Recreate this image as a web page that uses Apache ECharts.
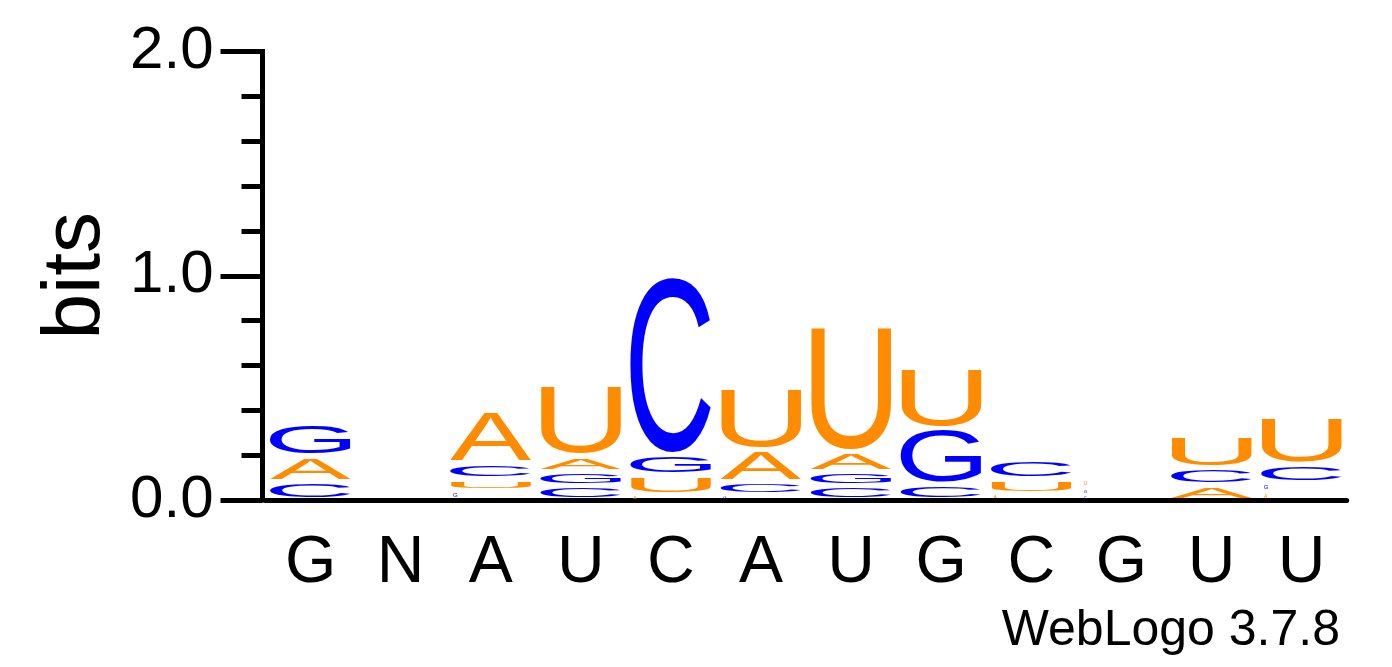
<!DOCTYPE html>
<html>
<head>
<meta charset="utf-8">
<script src="https://cdn.jsdelivr.net/npm/echarts@6/dist/echarts.min.js"></script>
<style>
  html, body { margin: 0; padding: 0; background: #fff; }
  #logo { width: 1392px; height: 667px; }
</style>
</head>
<body>
<div id="logo"></div>
<script>
// positions of the consensus sequence
const positions = ['G', 'N', 'A', 'U', 'C', 'A', 'U', 'G', 'C', 'G', 'U', 'U']
// bits per letter per position
const bitsA = [0.114, 0, 0.231, 0.070, 0.025, 0.141, 0.089, 0,     0.030, 0,     0.068, 0.035]
const bitsC = [0.083, 0, 0.071, 0.062, 0.800, 0.058, 0.062, 0.070, 0.088, 0.025, 0.075, 0.080]
const bitsG = [0.144, 0, 0.043, 0.065, 0.090, 0.025, 0.065, 0.250, 0,     0.030, 0,     0.043]
const bitsU = [0,     0, 0.052, 0.316, 0.086, 0.275, 0.562, 0.270, 0.065, 0.035, 0.145, 0.210]
const yTicks = [0, 1, 2]

const letters = { A: bitsA, C: bitsC, G: bitsG, U: bitsU }
const colors = { A: '#ff8c00', U: '#ff8c00', C: '#0000ff', G: '#0000ff' }
const FONT = '100px "Liberation Sans"'

// ink box of each glyph, measured once (baseline 'middle' like zrender uses)
const metrics = {}
;(function () {
    let ctx = document.createElement('canvas').getContext('2d')
    ctx.font = FONT
    ctx.textAlign = 'left'
    ctx.textBaseline = 'middle'
    Object.keys(letters).forEach(L => {
        let m = ctx.measureText(L)
        metrics[L] = {
            l: m.actualBoundingBoxLeft, r: m.actualBoundingBoxRight,
            a: m.actualBoundingBoxAscent, d: m.actualBoundingBoxDescent
        }
    })
})()

function glyph(L, left, top, w, h) {
    let m = metrics[L]
    let sx = w / (m.l + m.r)
    let sy = h / (m.a + m.d)
    return {
        type: 'text',
        x: left + sx * m.l,
        y: top + sy * m.a,
        scaleX: sx,
        scaleY: sy,
        silent: true,
        style: { text: L, x: 0, y: 0, font: FONT, fill: colors[L], align: 'left', verticalAlign: 'middle' }
    }
}

function renderColumn(params, api) {
    let i = api.value(0)
    let stack = Object.keys(letters)
        .map(L => ({ L: L, v: letters[L][i] }))
        .filter(s => s.v > 0)
        .sort((a, b) => a.v - b.v)
    let band = api.size([1, 0])[0]
    let colW = band * 0.9
    let cx = api.coord([i, 0])[0]
    let acc = 0
    let children = []
    stack.forEach(s => {
        let y0 = api.coord([i, acc])[1]
        let y1 = api.coord([i, acc + s.v])[1]
        acc += s.v
        let boxH = y0 - y1
        let inset = 2.5
        let h = boxH - 2 * inset
        if (h >= 6) {
            children.push(glyph(s.L, cx - colW / 2, y1 + inset, colW, h))
        } else {
            // too small to stretch: keep natural shape at the column's left
            let m = metrics[s.L]
            let th = Math.min(5, Math.max(3, boxH * 0.45))
            let tw = th * (m.l + m.r) / (m.a + m.d)
            children.push(glyph(s.L, cx - colW / 2 + 3, y0 - (boxH + th) / 2, tw, th))
        }
    })
    return { type: 'group', children: children }
}

let myChart = echarts.init(document.getElementById('logo'))

let option = {
    backgroundColor: '#fff',
    animation: false,
    grid: {
        left: 265.5,
        right: 45.3,
        top: 51.5,
        bottom: 167
    },
    xAxis: {
        type: 'category',
        data: positions,
        axisLine: { lineStyle: { color: '#000', width: 5 } },
        axisTick: { alignWithLabel: true, length: 21, lineStyle: { color: '#000', width: 5 } },
        axisLabel: { color: '#000', fontSize: 66, fontFamily: 'Liberation Sans', margin: 31 },
        splitLine: { show: false }
    },
    yAxis: {
        type: 'value',
        min: yTicks[0],
        max: yTicks[yTicks.length - 1],
        interval: 1,
        offset: 3,
        name: 'bits',
        nameLocation: 'middle',
        nameRotate: 90,
        nameGap: 145,
        nameTextStyle: { color: '#000', fontSize: 82, fontFamily: 'Liberation Sans' },
        axisLine: { show: true, lineStyle: { color: '#000', width: 5, cap: 'square' } },
        axisTick: { show: true, length: 42, lineStyle: { color: '#000', width: 5 } },
        minorTick: { show: true, splitNumber: 5, length: 21, lineStyle: { color: '#000', width: 5 } },
        axisLabel: {
            color: '#000', fontSize: 60, fontFamily: 'Liberation Sans', margin: 49,
            formatter: v => v.toFixed(1)
        },
        splitLine: { show: false },
        minorSplitLine: { show: false }
    },
    graphic: [{
        type: 'text',
        right: 52,
        top: 606,
        style: { text: 'WebLogo 3.7.8', font: '50px "Liberation Sans"', fill: '#000' }
    }],
    series: [{
        type: 'custom',
        renderItem: renderColumn,
        encode: { x: 0 },
        data: positions.map((p, i) => [i]),
        clip: false
    }]
}

myChart.setOption(option)
</script>
</body>
</html>
